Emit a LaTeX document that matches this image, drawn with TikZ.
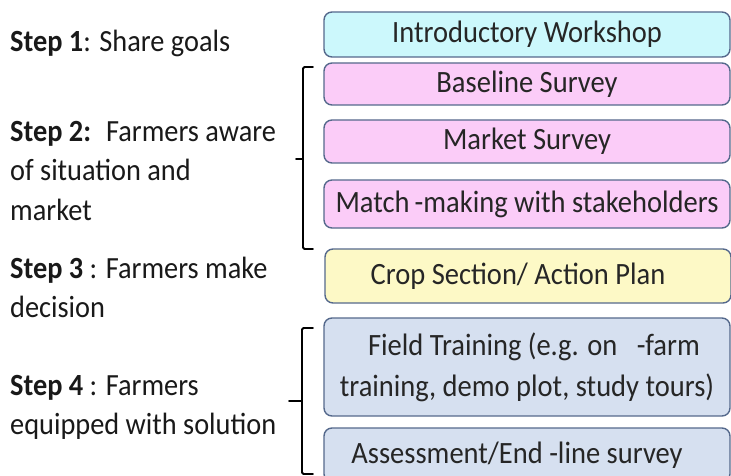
\documentclass[tikz,border=0pt]{standalone}
\usepackage{fontspec}
\setmainfont{Carlito}[FakeStretch=0.92]

\definecolor{boxline}{HTML}{55698C}
\definecolor{introfill}{HTML}{CCF8FC}
\definecolor{surveyfill}{HTML}{FBCCF8}
\definecolor{planfill}{HTML}{FDF9C6}
\definecolor{fieldfill}{HTML}{D6E0F0}

\tikzset{
  stepbox/.style={draw=boxline,line width=1.4pt,rounded corners=8pt,
    minimum width=406pt,inner sep=0pt,align=center,text=black!85,
    font=\fontsize{31}{41}\selectfont},
  steptext/.style={anchor=base west,inner sep=0pt,align=left,text=black!90,
    font=\fontsize{30.8}{38}\selectfont},
  bracket/.style={line width=1.8pt,line cap=round,rounded corners=1.5pt}
}

\begin{document}
\begin{tikzpicture}[x=1pt,y=-1pt]

\useasboundingbox (0,0) rectangle (731,476);
\clip (0,0) rectangle (731,476);

% Left column x-position for boxes
\def\bx{527}

% Boxes
\node[stepbox,fill=introfill,minimum height=45pt] (intro) at (\bx,34.5) {Introductory Workshop};
\node[stepbox,fill=surveyfill,minimum height=42pt] (base) at (\bx,84) {Baseline Survey};
\node[stepbox,fill=surveyfill,minimum height=43pt] (market) at (\bx,141.5) {Market Survey};
\node[stepbox,fill=surveyfill,minimum height=48pt] (match) at (\bx,204) {Match\,-making with stakeholders};
\node[stepbox,fill=planfill,minimum height=54pt] (plan) at (\bx+1,276) {Crop Section/ Action Plan\hspace{20pt}};
\node[stepbox,fill=fieldfill,minimum height=98pt] (field) at (\bx,367)
  {\hspace{14pt}Field Training (e.g. on~~~-farm\\training, demo plot, study tours)};
\node[stepbox,fill=fieldfill,minimum height=54pt] (assess) at (\bx,455) {Assessment/End -line survey\hspace{20pt}};

% Step labels
\node[steptext] (s1) at (10,52) {\textbf{Step 1}: Share goals};
\node[steptext] (s2) at (10,142) {\textbf{Step 2:}~ Farmers aware};
\node[steptext] (s2b) at (10,181) {of situation and};
\node[steptext] (s2c) at (10,220) {market};
\node[steptext] (s3) at (10,278) {\textbf{Step 3} : Farmers make};
\node[steptext] (s3b) at (10,317) {decision};
\node[steptext] (s4) at (10,395) {\textbf{Step 4} : Farmers};
\node[steptext] (s4b) at (10,434) {equipped with solution};

% Brackets
\draw[bracket] (313,67) -- (303,67) -- (303,249) -- (313,249);
\draw[bracket] (303,159) -- (296,159);
\draw[bracket] (313,328) -- (302,328) -- (302,474) -- (313,474);
\draw[bracket] (302,401) -- (289,401);

\end{tikzpicture}
\end{document}
